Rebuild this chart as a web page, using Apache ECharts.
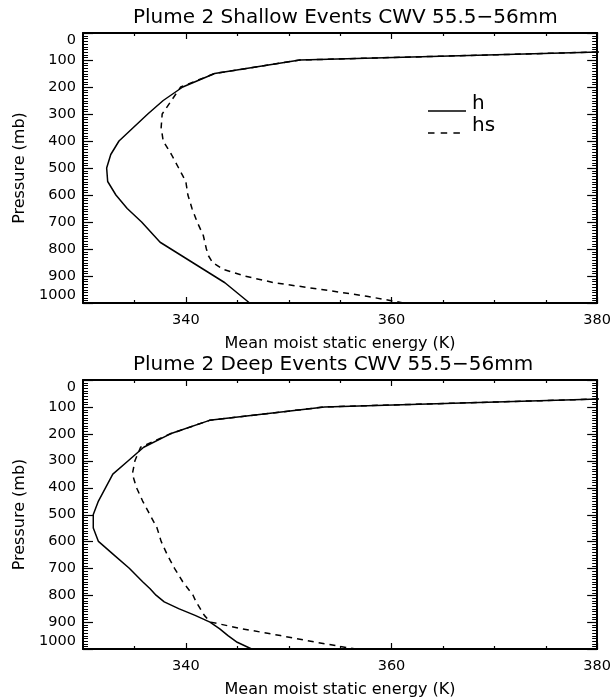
<!DOCTYPE html>
<html>
<head>
<meta charset="utf-8">
<script src="https://cdn.jsdelivr.net/npm/echarts@6/dist/echarts.min.js"></script>
</head>
<body style="margin:0">
<div id="chart" style="width:614px;height:699px"></div>
<script>
// Pressure levels (mb)
var levels = [50, 70, 100, 150, 200, 250, 300, 350, 400, 450, 500, 550, 600, 650, 700, 750, 775, 800, 825, 850, 875, 900, 925, 950, 975, 1000];

// Shallow events: moist static energy h and saturated hs (K)
var shallowH  = [410, 380.5, 351.1, 342.8, 339.7, 337.8, 336.3, 334.9, 333.5, 332.7, 332.3, 332.4, 333.2, 334.3, 335.7, 336.9, 337.5, 338.55, 339.6, 340.65, 341.7, 342.75, 343.8, 344.6, 345.4, 346.2];
var shallowHs = [410, 380.5, 351.1, 342.8, 339.5, 338.6, 337.7, 337.6, 337.8, 338.6, 339.3, 340.0, 340.2, 340.6, 341.1, 341.7, 341.85, 342.0, 342.2, 342.6, 343.6, 345.7, 348.6, 353.2, 357.6, 361.2];

// Deep events
var deepH  = [410, 380.8, 353.5, 342.3, 338.5, 335.9, 334.4, 332.9, 332.2, 331.5, 331.0, 331.0, 331.5, 333.0, 334.5, 335.8, 336.5, 337.1, 337.9, 339.3, 340.9, 342.35, 343.3, 344.1, 345.0, 346.4];
var deepHs = [410, 380.8, 353.5, 342.3, 338.5, 335.6, 335.05, 334.8, 335.2, 335.8, 336.5, 337.2, 337.6, 338.2, 338.9, 339.7, 340.2, 340.7, 341.0, 341.4, 341.8, 342.4, 345.5, 349.2, 352.65, 356.5];

var titles = ['Plume 2 Shallow Events CWV 55.5\u221256mm', 'Plume 2 Deep Events CWV 55.5\u221256mm'];
var xMajorTicks = [340, 360, 380];
var xMinorTicks = [335, 345, 350, 355, 365, 370, 375];
var seriesNames = ['h', 'hs'];

var FONT = 'DejaVu Sans';

function pairs(xs) {
  return xs.map(function (v, i) { return [v, levels[i]]; });
}

var chart = echarts.init(document.getElementById('chart'));

var gridTops = [33, 380];
var grids = [], xAxes = [], yAxes = [], series = [], titleArr = [];

gridTops.forEach(function (top, g) {
  grids.push({left: 83, width: 515, top: top, height: 270});
  titleArr.push({
    text: titles[g], left: 128, top: top - 30,
    textStyle: {fontFamily: FONT, fontSize: 20, fontWeight: 'normal', color: '#000'}
  });
  // bottom axis with labels
  xAxes.push({
    gridIndex: g, type: 'value', min: 330, max: 380, position: 'bottom',
    splitLine: {show: false},
    name: 'Mean moist static energy (K)', nameLocation: 'middle', nameGap: 33,
    nameTextStyle: {fontFamily: FONT, fontSize: 16, color: '#000'},
    axisLine: {show: true, onZero: false, lineStyle: {color: '#000', width: 2}},
    axisTick: {show: false},
    axisLabel: {show: true, customValues: xMajorTicks, margin: 10, fontFamily: FONT, fontSize: 14.5, color: '#000'}
  });
  // top axis (box edge)
  xAxes.push({
    gridIndex: g, type: 'value', min: 330, max: 380, position: 'top',
    splitLine: {show: false},
    axisLine: {show: true, onZero: false, lineStyle: {color: '#000', width: 2}},
    axisTick: {show: false},
    axisLabel: {show: false}
  });
  // left y axis
  yAxes.push({
    gridIndex: g, type: 'value', min: 0, max: 1000, interval: 100, inverse: true, position: 'left',
    splitLine: {show: false},
    name: 'Pressure (mb)', nameLocation: 'middle', nameGap: 54,
    nameTextStyle: {fontFamily: FONT, fontSize: 16, color: '#000'},
    axisLine: {show: true, onZero: false, lineStyle: {color: '#000', width: 2}},
    axisTick: {show: false},
    axisLabel: {show: true, margin: 7, fontFamily: FONT, fontSize: 14.5, color: '#000',
      verticalAlignMinLabel: 'top', verticalAlignMaxLabel: 'bottom',
      formatter: function (v) { return String(v); }}
  });
  // right y axis (box edge)
  yAxes.push({
    gridIndex: g, type: 'value', min: 0, max: 1000, interval: 100, inverse: true, position: 'right',
    splitLine: {show: false},
    axisLine: {show: true, onZero: false, lineStyle: {color: '#000', width: 2}},
    axisTick: {show: false},
    axisLabel: {show: false}
  });
  var hData = g === 0 ? shallowH : deepH;
  var hsData = g === 0 ? shallowHs : deepHs;
  series.push({
    name: seriesNames[0], type: 'line', xAxisIndex: g * 2, yAxisIndex: g * 2,
    data: pairs(hData), symbol: 'none',
    lineStyle: {color: '#000', width: 1.5}
  });
  series.push({
    name: seriesNames[1], type: 'line', xAxisIndex: g * 2, yAxisIndex: g * 2,
    data: pairs(hsData), symbol: 'none',
    lineStyle: {color: '#000', width: 1.5, type: [6, 5]}
  });
});

// legend key (top panel)
var legendGraphic = [
  {type: 'line', shape: {x1: 428, y1: 111, x2: 466, y2: 111}, style: {stroke: '#000', lineWidth: 1.5}},
  {type: 'line', shape: {x1: 428, y1: 133, x2: 466, y2: 133}, style: {stroke: '#000', lineWidth: 1.5, lineDash: [6.5, 6.2]}},
  {type: 'text', x: 472, y: 104, style: {text: seriesNames[0], font: '20px "DejaVu Sans"', fill: '#000', verticalAlign: 'middle'}},
  {type: 'text', x: 472, y: 126, style: {text: seriesNames[1], font: '20px "DejaVu Sans"', fill: '#000', verticalAlign: 'middle'}}
];

chart.setOption({
  backgroundColor: '#fff',
  animation: false,
  title: titleArr,
  grid: grids,
  xAxis: xAxes,
  yAxis: yAxes,
  graphic: legendGraphic,
  series: series
});

// Axis ticks placed through the axes' own scales (inward, on all four sides)
var tickGraphic = [];
function tickLine(x1, y1, x2, y2, w) {
  tickGraphic.push({type: 'line', silent: true, z: 10,
    shape: {x1: x1, y1: y1, x2: x2, y2: y2}, style: {stroke: '#000', lineWidth: w}});
}
gridTops.forEach(function (top, g) {
  var xi = {xAxisIndex: g * 2}, yi = {yAxisIndex: g * 2};
  var xL = chart.convertToPixel(xi, 330), xR = chart.convertToPixel(xi, 380);
  var yT = chart.convertToPixel(yi, 0), yB = chart.convertToPixel(yi, 1000);
  for (var p = 0; p <= 1000; p += 10) {
    var y = Math.round(chart.convertToPixel(yi, p)) + 0.5;
    var major = p % 100 === 0;
    var len = major ? 10 : 5, w = major ? 1.2 : 1;
    tickLine(xL, y, xL + len, y, w);
    tickLine(xR - len, y, xR, y, w);
  }
  xMajorTicks.concat(xMinorTicks).forEach(function (k) {
    var x = Math.round(chart.convertToPixel(xi, k)) + 0.5;
    var len = xMajorTicks.indexOf(k) >= 0 ? 6 : 3;
    tickLine(x, yB, x, yB - len, 1.2);
    tickLine(x, yT, x, yT + len, 1.2);
  });
});
chart.setOption({graphic: legendGraphic.concat(tickGraphic)});
</script>
</body>
</html>
